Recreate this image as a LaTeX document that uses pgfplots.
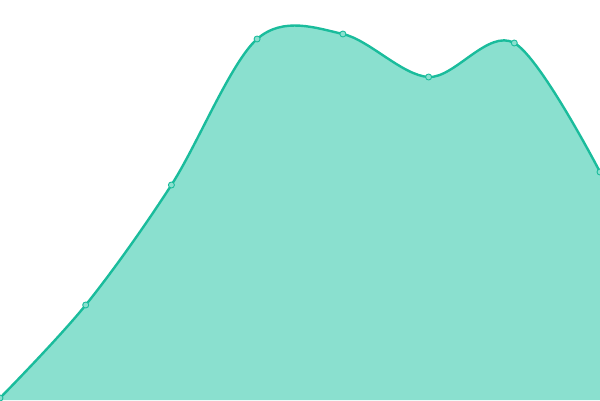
\documentclass[border=0pt]{standalone}
\usepackage{pgfplots}
\pgfplotsset{compat=1.18}
\definecolor{linec}{HTML}{1ABC9C}
\definecolor{fillc}{HTML}{8AE0CF}
\pgfplotstableread{
x y
0 2
85.7 95
171.4 215
257.1 361
342.9 366
428.6 323
514.3 357
600 228
}\data
\begin{document}
\begin{tikzpicture}
\begin{axis}[scale only axis, width=600bp, height=400bp,
  xmin=0, xmax=600, ymin=0, ymax=400, axis lines=none, ticks=none, clip=true]
\addplot[draw=none, fill=fillc, smooth, tension=0.55] table[x=x,y=y]{\data} |- (axis cs:0,0) -- cycle;
\addplot[linec, line width=2.4bp, smooth, tension=0.55, mark=*, mark size=3bp,
  mark options={fill=fillc, draw=linec, line width=0.9bp}] table[x=x,y=y]{\data};
\end{axis}
\pgfresetboundingbox
\path[use as bounding box] (current axis.south west) rectangle (current axis.north east);
\end{tikzpicture}
\end{document}
